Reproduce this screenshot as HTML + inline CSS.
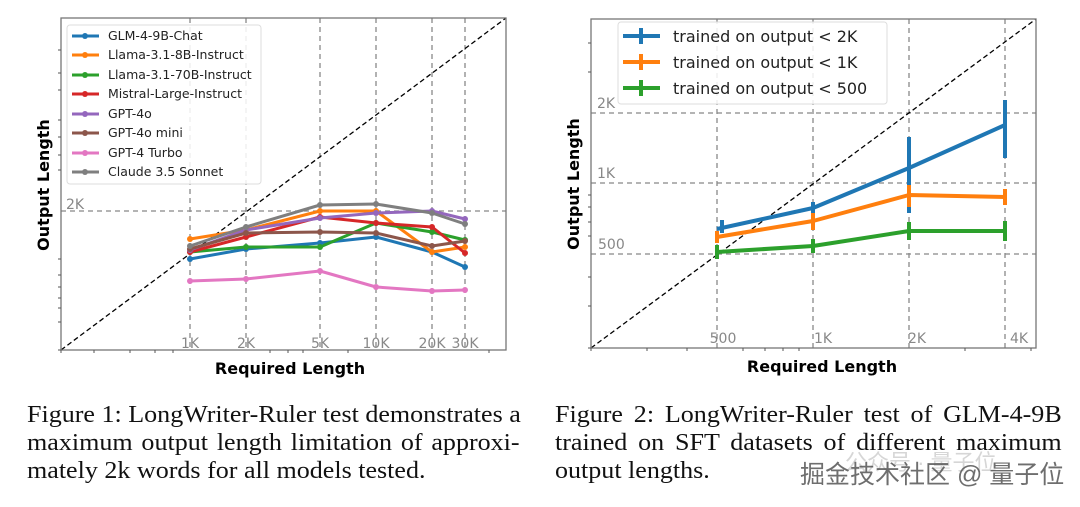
<!DOCTYPE html>
<html><head><meta charset="utf-8"><style>
body{margin:0;background:#fff;width:1080px;height:507px;overflow:hidden;position:relative}
.cap{position:absolute;font-family:"Liberation Serif",serif;font-size:24px;line-height:28px;color:#111;transform:scaleX(1.085);transform-origin:0 0}
.cap div{text-align:justify;text-align-last:justify;white-space:nowrap;height:28px}
.cap div.l{text-align-last:left}
</style></head><body>
<svg width="1080" height="390" style="position:absolute;left:0;top:0" font-family="DejaVu Sans, sans-serif">
<g stroke="#888" stroke-width="1.3" stroke-dasharray="5,4" fill="none">
<line x1="190" y1="18" x2="190" y2="350"/><line x1="246" y1="18" x2="246" y2="350"/>
<line x1="320" y1="18" x2="320" y2="350"/><line x1="376" y1="18" x2="376" y2="350"/>
<line x1="432" y1="18" x2="432" y2="350"/><line x1="465" y1="18" x2="465" y2="350"/>
<line x1="61" y1="211" x2="506" y2="211"/>
</g>
<line x1="61" y1="350" x2="506" y2="18" stroke="#000" stroke-width="1.3" stroke-dasharray="5,3"/>
<g fill="none" stroke-width="3" stroke-linejoin="round">
<polyline stroke="#1f77b4" points="190,259 246,249 320,243 376,237 432,252 465,267"/>
<polyline stroke="#ff7f0e" points="190,239 246,230 320,211 376,211 432,252 465,247"/>
<polyline stroke="#2ca02c" points="190,252 246,247 320,247 376,223 432,232 465,240"/>
<polyline stroke="#d62728" points="190,252 246,237 320,217 376,223 432,227 465,253"/>
<polyline stroke="#9467bd" points="190,250 246,230 320,218 376,213 432,211 465,219"/>
<polyline stroke="#8c564b" points="190,249 246,233 320,232 376,233 432,246 465,241"/>
<polyline stroke="#e377c2" points="190,281 246,279 320,271 376,287 432,291 465,290"/>
<polyline stroke="#7f7f7f" points="190,246 246,227 320,205 376,204 432,213 465,224"/>
</g>
<g>
<g fill="#1f77b4"><circle cx="190" cy="259" r="3"/><circle cx="246" cy="249" r="3"/><circle cx="320" cy="243" r="3"/><circle cx="376" cy="237" r="3"/><circle cx="432" cy="252" r="3"/><circle cx="465" cy="267" r="3"/></g>
<g fill="#ff7f0e"><circle cx="190" cy="239" r="3"/><circle cx="246" cy="230" r="3"/><circle cx="320" cy="211" r="3"/><circle cx="376" cy="211" r="3"/><circle cx="432" cy="252" r="3"/><circle cx="465" cy="247" r="3"/></g>
<g fill="#2ca02c"><circle cx="190" cy="252" r="3"/><circle cx="246" cy="247" r="3"/><circle cx="320" cy="247" r="3"/><circle cx="376" cy="223" r="3"/><circle cx="432" cy="232" r="3"/><circle cx="465" cy="240" r="3"/></g>
<g fill="#d62728"><circle cx="190" cy="252" r="3"/><circle cx="246" cy="237" r="3"/><circle cx="320" cy="217" r="3"/><circle cx="376" cy="223" r="3"/><circle cx="432" cy="227" r="3"/><circle cx="465" cy="253" r="3"/></g>
<g fill="#9467bd"><circle cx="190" cy="250" r="3"/><circle cx="246" cy="230" r="3"/><circle cx="320" cy="218" r="3"/><circle cx="376" cy="213" r="3"/><circle cx="432" cy="211" r="3"/><circle cx="465" cy="219" r="3"/></g>
<g fill="#8c564b"><circle cx="190" cy="249" r="3"/><circle cx="246" cy="233" r="3"/><circle cx="320" cy="232" r="3"/><circle cx="376" cy="233" r="3"/><circle cx="432" cy="246" r="3"/><circle cx="465" cy="241" r="3"/></g>
<g fill="#e377c2"><circle cx="190" cy="281" r="3"/><circle cx="246" cy="279" r="3"/><circle cx="320" cy="271" r="3"/><circle cx="376" cy="287" r="3"/><circle cx="432" cy="291" r="3"/><circle cx="465" cy="290" r="3"/></g>
<g fill="#7f7f7f"><circle cx="190" cy="246" r="3"/><circle cx="246" cy="227" r="3"/><circle cx="320" cy="205" r="3"/><circle cx="376" cy="204" r="3"/><circle cx="432" cy="213" r="3"/><circle cx="465" cy="224" r="3"/></g>
</g>
<rect x="61" y="18" width="445" height="332" fill="none" stroke="#777" stroke-width="1.3"/>
<g stroke="#555" stroke-width="1">
<line x1="58" y1="350" x2="61" y2="350"/><line x1="61" y1="350" x2="61" y2="353"/>
<line x1="58" y1="259" x2="61" y2="259"/><line x1="58" y1="275" x2="61" y2="275"/><line x1="58" y1="287" x2="61" y2="287"/><line x1="58" y1="298" x2="61" y2="298"/><line x1="58" y1="308" x2="61" y2="308"/><line x1="58" y1="322" x2="61" y2="322"/>
<line x1="58" y1="120" x2="61" y2="120"/><line x1="58" y1="137" x2="61" y2="137"/><line x1="58" y1="155" x2="61" y2="155"/><line x1="58" y1="170" x2="61" y2="170"/>
<line x1="58" y1="50" x2="61" y2="50"/><line x1="58" y1="73" x2="61" y2="73"/><line x1="58" y1="90" x2="61" y2="90"/>
<line x1="94" y1="350" x2="94" y2="353"/><line x1="130" y1="350" x2="130" y2="353"/><line x1="155" y1="350" x2="155" y2="353"/><line x1="173" y1="350" x2="173" y2="353"/><line x1="270" y1="350" x2="270" y2="353"/><line x1="288" y1="350" x2="288" y2="353"/><line x1="303" y1="350" x2="303" y2="353"/><line x1="348" y1="350" x2="348" y2="353"/><line x1="489" y1="350" x2="489" y2="353"/>
</g>
<g fill="#888" font-size="14" text-anchor="middle">
<text x="190" y="348">1K</text><text x="246" y="348">2K</text><text x="320" y="348">5K</text><text x="376" y="348">10K</text><text x="432" y="348">20K</text><text x="465" y="348">30K</text>
<text x="75" y="209">2K</text>
</g>
<rect x="67" y="25" width="194" height="159" rx="3" fill="#fff" fill-opacity="0.85" stroke="#ddd"/>
<g stroke-width="3">
<line x1="72" y1="36" x2="99" y2="36" stroke="#1f77b4"/><line x1="72" y1="55" x2="99" y2="55" stroke="#ff7f0e"/>
<line x1="72" y1="75" x2="99" y2="75" stroke="#2ca02c"/><line x1="72" y1="94" x2="99" y2="94" stroke="#d62728"/>
<line x1="72" y1="114" x2="99" y2="114" stroke="#9467bd"/><line x1="72" y1="133" x2="99" y2="133" stroke="#8c564b"/>
<line x1="72" y1="153" x2="99" y2="153" stroke="#e377c2"/><line x1="72" y1="172" x2="99" y2="172" stroke="#7f7f7f"/>
</g>
<g>
<circle cx="85" cy="36" r="3" fill="#1f77b4"/><circle cx="85" cy="55" r="3" fill="#ff7f0e"/><circle cx="85" cy="75" r="3" fill="#2ca02c"/><circle cx="85" cy="94" r="3" fill="#d62728"/><circle cx="85" cy="114" r="3" fill="#9467bd"/><circle cx="85" cy="133" r="3" fill="#8c564b"/><circle cx="85" cy="153" r="3" fill="#e377c2"/><circle cx="85" cy="172" r="3" fill="#7f7f7f"/>
</g>
<g font-size="12.5" fill="#222">
<text x="108" y="40">GLM-4-9B-Chat</text><text x="108" y="59">Llama-3.1-8B-Instruct</text>
<text x="108" y="79">Llama-3.1-70B-Instruct</text><text x="108" y="98">Mistral-Large-Instruct</text>
<text x="108" y="118">GPT-4o</text><text x="108" y="137">GPT-4o mini</text>
<text x="108" y="157">GPT-4 Turbo</text><text x="108" y="176">Claude 3.5 Sonnet</text>
</g>
<text x="290" y="374" font-size="16" font-weight="bold" text-anchor="middle">Required Length</text>
<text transform="translate(49,185) rotate(-90)" font-size="16" font-weight="bold" text-anchor="middle">Output Length</text>

<g stroke="#888" stroke-width="1.3" stroke-dasharray="5,4" fill="none">
<line x1="717" y1="19" x2="717" y2="348"/><line x1="813" y1="19" x2="813" y2="348"/>
<line x1="909" y1="19" x2="909" y2="348"/><line x1="1005" y1="19" x2="1005" y2="348"/>
<line x1="591" y1="113" x2="1036" y2="113"/><line x1="591" y1="183" x2="1036" y2="183"/><line x1="591" y1="254" x2="1036" y2="254"/>
</g>
<line x1="591" y1="348" x2="1036" y2="19" stroke="#000" stroke-width="1.3" stroke-dasharray="5,3"/>
<g fill="none" stroke-width="4" stroke-linejoin="round">
<polyline stroke="#2ca02c" points="717,252 813,246 909,231 1005,231"/>
<polyline stroke="#ff7f0e" points="717,237 813,221 909,195 1005,197"/>
<polyline stroke="#1f77b4" points="717,229 813,208 909,168 1005,125"/>
</g>
<g stroke-width="4">
<g stroke="#1f77b4"><line x1="722" y1="220" x2="722" y2="233"/><line x1="813" y1="202" x2="813" y2="214"/><line x1="909" y1="137" x2="909" y2="213"/><line x1="1005" y1="100" x2="1005" y2="158"/></g>
<g stroke="#ff7f0e"><line x1="717" y1="231" x2="717" y2="243"/><line x1="813" y1="213" x2="813" y2="230"/><line x1="909" y1="185" x2="909" y2="207"/><line x1="1005" y1="189" x2="1005" y2="205"/></g>
<g stroke="#2ca02c"><line x1="717" y1="245" x2="717" y2="259"/><line x1="813" y1="239" x2="813" y2="253"/><line x1="909" y1="222" x2="909" y2="240"/><line x1="1005" y1="221" x2="1005" y2="241"/></g>
</g>
<rect x="591" y="19" width="445" height="329" fill="none" stroke="#777" stroke-width="1.3"/>
<g stroke="#555" stroke-width="1">
<line x1="588" y1="348" x2="591" y2="348"/><line x1="591" y1="348" x2="591" y2="351"/>
<line x1="588" y1="43" x2="591" y2="43"/><line x1="588" y1="72" x2="591" y2="72"/><line x1="588" y1="195" x2="591" y2="195"/><line x1="588" y1="207" x2="591" y2="207"/><line x1="588" y1="222" x2="591" y2="222"/><line x1="588" y1="236" x2="591" y2="236"/><line x1="588" y1="277" x2="591" y2="277"/><line x1="588" y1="306" x2="591" y2="306"/>
<line x1="647" y1="348" x2="647" y2="351"/><line x1="687" y1="348" x2="687" y2="351"/><line x1="743" y1="348" x2="743" y2="351"/><line x1="765" y1="348" x2="765" y2="351"/><line x1="783" y1="348" x2="783" y2="351"/><line x1="799" y1="348" x2="799" y2="351"/><line x1="965" y1="348" x2="965" y2="351"/><line x1="1031" y1="348" x2="1031" y2="351"/>
</g>
<g fill="#888" font-size="14" text-anchor="middle">
<text x="723" y="343">500</text><text x="823" y="343">1K</text><text x="917" y="343">2K</text><text x="1019" y="343">4K</text>
</g>
<g fill="#888" font-size="14">
<text x="597" y="108">2K</text><text x="597" y="178">1K</text><text x="598" y="249">500</text>
</g>
<rect x="618" y="22" width="269" height="82" rx="3" fill="#fff" fill-opacity="0.85" stroke="#ddd"/>
<g stroke-width="4">
<line x1="623" y1="36" x2="660" y2="36" stroke="#1f77b4"/><line x1="641" y1="28" x2="641" y2="44" stroke="#1f77b4"/>
<line x1="623" y1="62" x2="660" y2="62" stroke="#ff7f0e"/><line x1="641" y1="54" x2="641" y2="70" stroke="#ff7f0e"/>
<line x1="623" y1="88" x2="660" y2="88" stroke="#2ca02c"/><line x1="641" y1="80" x2="641" y2="96" stroke="#2ca02c"/>
</g>
<g font-size="16" fill="#222">
<text x="673" y="42">trained on output &lt; 2K</text>
<text x="673" y="68">trained on output &lt; 1K</text>
<text x="673" y="94">trained on output &lt; 500</text>
</g>
<text x="822" y="372" font-size="16" font-weight="bold" text-anchor="middle">Required Length</text>
<text transform="translate(579,184) rotate(-90)" font-size="16" font-weight="bold" text-anchor="middle">Output Length</text>
</svg>

<div class="cap" style="left:27px;top:401px;width:454px">
<div>Figure 1: LongWriter-Ruler test demonstrates a</div>
<div>maximum output length limitation of approxi-</div>
<div class="l">mately 2k words for all models tested.</div>
</div>
<div class="cap" style="left:555px;top:401px;width:467px">
<div>Figure 2: LongWriter-Ruler test of GLM-4-9B</div>
<div>trained on SFT datasets of different maximum</div>
<div class="l">output lengths.</div>
</div>
<div style="position:absolute;left:845px;top:445px;font-family:'Liberation Sans','Noto Sans CJK SC',sans-serif;font-size:22px;color:#bbb;opacity:0.6">公众号 · 量子位</div>
<div style="position:absolute;left:800px;top:455px;font-family:'Liberation Sans','Noto Sans CJK SC',sans-serif;font-size:25px;color:#555;opacity:0.85">掘金技术社区 @ 量子位</div>
</body></html>
